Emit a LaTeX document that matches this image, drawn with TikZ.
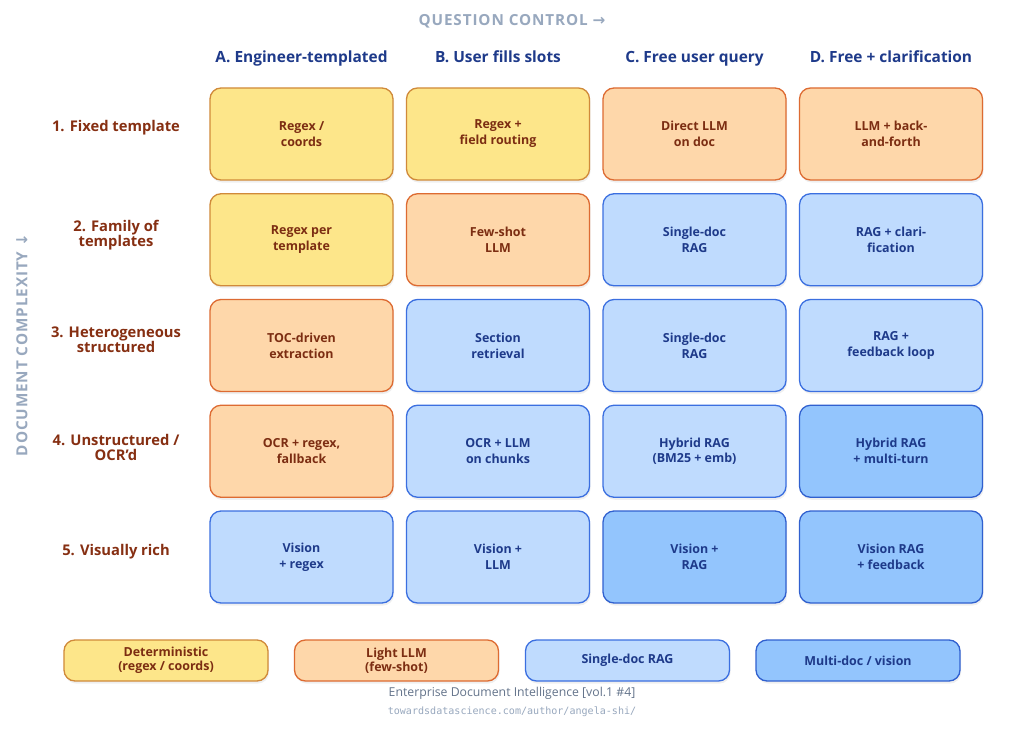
\documentclass[tikz,border=0pt]{standalone}
\usepackage{fontspec}
\setmainfont{Open Sans}
\setmonofont{DejaVu Sans Mono}
\newfontfamily\axisfont[LetterSpace=6]{Open Sans}
\newfontfamily\arrowfont{DejaVu Sans}
\usetikzlibrary{positioning,shadows}
\definecolor{detfill}{HTML}{FDE68A}
\definecolor{detline}{HTML}{D08A3A}
\definecolor{llmfill}{HTML}{FED7AA}
\definecolor{llmline}{HTML}{DD6B32}
\definecolor{ragfill}{HTML}{BFDBFE}
\definecolor{ragline}{HTML}{3B6FE0}
\definecolor{multifill}{HTML}{93C5FD}
\definecolor{multiline}{HTML}{3060CF}
\definecolor{warmtext}{HTML}{7C2D12}
\definecolor{coldtext}{HTML}{1E3A8A}
\definecolor{rowtext}{HTML}{862F12}
\definecolor{axistext}{HTML}{98A8BE}
\definecolor{foottext}{HTML}{64748B}
\tikzset{
  cell/.style={rectangle, rounded corners=11bp, minimum width=183bp, minimum height=92bp,
    line width=1.3bp, align=center, font=\fontsize{12.5}{16}\selectfont\bfseries,
    drop shadow={opacity=0.12, shadow xshift=1bp, shadow yshift=-2.5bp}},
  det/.style={cell, draw=detline, fill=detfill, text=warmtext},
  llm/.style={cell, draw=llmline, fill=llmfill, text=warmtext},
  rag/.style={cell, draw=ragline, fill=ragfill, text=coldtext},
  multi/.style={cell, draw=multiline, fill=multifill, text=coldtext},
  key/.style={minimum width=204bp, minimum height=41bp, font=\fontsize{12.5}{14}\selectfont\bfseries},
  colhead/.style={font=\fontsize{15.5}{18}\selectfont\bfseries, text=coldtext, text height=11.5bp, text depth=3.5bp},
  rowhead/.style={font=\fontsize{14.8}{15}\selectfont\bfseries, text=rowtext, align=center},
  axislab/.style={font=\fontsize{15.3}{16}\selectfont\bfseries\axisfont, text=axistext}
}
\begin{document}
\begin{tikzpicture}[x=1bp, y=-1bp, node distance=105.75bp and 196.5bp, on grid]
  \useasboundingbox[fill=white] (0,0) rectangle (1024,732);
  \node[det] (a1) at (301.5,134) {Regex /\\coords};
  \node[det] (b1) [right=of a1] {Regex +\\field routing};
  \node[llm] (c1) [right=of b1] {Direct LLM\\on doc};
  \node[llm] (d1) [right=of c1] {LLM + back-\\and-forth};
  \node[det] (a2) [below=of a1] {Regex per\\template};
  \node[llm] (b2) [right=of a2] {Few-shot\\LLM};
  \node[rag] (c2) [right=of b2] {Single-doc\\RAG};
  \node[rag] (d2) [right=of c2] {RAG + clari-\\fication};
  \node[llm] (a3) [below=of a2] {TOC-driven\\extraction};
  \node[rag] (b3) [right=of a3] {Section\\retrieval};
  \node[rag] (c3) [right=of b3] {Single-doc\\RAG};
  \node[rag] (d3) [right=of c3] {RAG +\\feedback loop};
  \node[llm] (a4) [below=of a3] {OCR + regex,\\fallback};
  \node[rag] (b4) [right=of a4] {OCR + LLM\\on chunks};
  \node[rag] (c4) [right=of b4] {Hybrid RAG\\(BM25 + emb)};
  \node[multi] (d4) [right=of c4] {Hybrid RAG\\+ multi-turn};
  \node[rag] (a5) [below=of a4] {Vision\\+ regex};
  \node[rag] (b5) [right=of a5] {Vision +\\LLM};
  \node[multi] (c5) [right=of b5] {Vision +\\RAG};
  \node[multi] (d5) [right=of c5] {Vision RAG\\+ feedback};
  \node[colhead] (ha) [above=75bp of a1] {A. Engineer-templated};
  \node[colhead] (hb) [above=75bp of b1] {B. User fills slots};
  \node[colhead] (hc) [above=75bp of c1] {C. Free user query};
  \node[colhead] (hd) [above=75bp of d1] {D. Free + clarification};
  \node[rowhead] (r1) at (116,127.5) {1. Fixed template};
  \node[rowhead] (r2) at (116,235) {2. Family of\\templates};
  \node[rowhead] (r3) at (116,340) {3. Heterogeneous\\structured};
  \node[rowhead] (r4) at (116,447) {4. Unstructured /\\OCR'd};
  \node[rowhead] (r5) at (116,551.5) {5. Visually rich};
  \node[axislab] (qc) at (512,21) {QUESTION CONTROL {\arrowfont →}};
  \node[axislab, rotate=90] (dc) at (22,345) {DOCUMENT COMPLEXITY {\arrowfont ↓}};
  \node[det, key] (k1) at (166,660.5) {Deterministic\\(regex / coords)};
  \node[llm, key] (k2) at (396.5,660.5) {Light LLM\\(few-shot)};
  \node[rag, key] (k3) at (627.5,660.5) {Single-doc RAG};
  \node[multi, key] (k4) at (858,660.5) {Multi-doc / vision};
  \node[font=\fontsize{12.3}{14}\selectfont, text=foottext] (ft) at (512,693) {Enterprise Document Intelligence [vol.1 \#4]};
  \node[font=\fontsize{10.1}{11}\selectfont\ttfamily, text=axistext] (url) at (512,712) {towardsdatascience.com/author/angela-shi/};
\end{tikzpicture}
\end{document}
